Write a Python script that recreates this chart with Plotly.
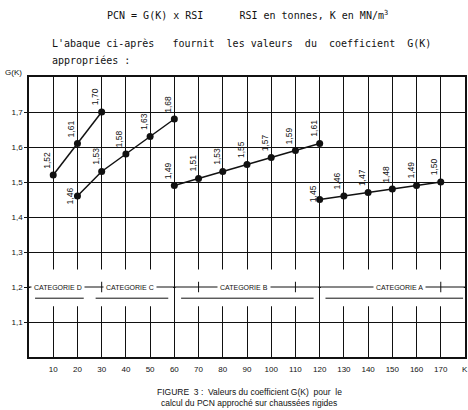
import plotly.graph_objects as go

# ---------------- data ----------------
k_D = [10, 20, 30]
g_D = [1.52, 1.61, 1.70]
k_C = [20, 30, 40, 50, 60]
g_C = [1.46, 1.53, 1.58, 1.63, 1.68]
k_B = [60, 70, 80, 90, 100, 110, 120]
g_B = [1.49, 1.51, 1.53, 1.55, 1.57, 1.59, 1.61]
k_A = [120, 130, 140, 150, 160, 170]
g_A = [1.45, 1.46, 1.47, 1.48, 1.49, 1.50]

x_tickvals = [10, 20, 30, 40, 50, 60, 70, 80, 90, 100, 110, 120, 130, 140, 150, 160, 170]
x_ticktext = ["10", "20", "30", "40", "50", "60", "70", "80", "90", "100", "110", "120",
              "130", "140", "150", "160", "170"]
x_unit_label = "K"
y_tickvals = [1.1, 1.2, 1.3, 1.4, 1.5, 1.6, 1.7]
y_ticktext = ["1,1", "1,2", "1,3", "1,4", "1,5", "1,6", "1,7"]

categories = ["CATEGORIE D", "CATEGORIE C", "CATEGORIE B", "CATEGORIE A"]
category_bounds = [(0, 60), (60, 120), (120, 180)]   # zones separated by full lines
band_y = 1.2

series = [(k_D, g_D), (k_C, g_C), (k_B, g_B), (k_A, g_A)]

# ---------------- layout constants (px / styling) ----------------
W, H = 468, 410
ML, MR, MT, MB = 29, 1, 77, 53
LINE = "#111111"
TXT_FONT = "Liberation Sans"
MONO = "DejaVu Sans Mono"

def py(px_y):
    return (H - MB - px_y) / (H - MT - MB)

def px_x(px_x_):
    return (px_x_ - ML) / (W - ML - MR)

fig = go.Figure()

for ks, gs in series:
    fig.add_trace(go.Scatter(
        x=ks, y=gs, mode="lines+markers",
        line=dict(color=LINE, width=1.5),
        marker=dict(color=LINE, size=7),
        showlegend=False, hoverinfo="skip"))

# value labels (rotated)
label_offsets = {(1, 0): (-7, 0), (3, 0): (-7, 6)}
annotations = []
for si, (ks, gs) in enumerate(series):
    for pi, (k, g) in enumerate(zip(ks, gs)):
        dx, dy = label_offsets.get((si, pi), (-6.5, 15))
        annotations.append(dict(
            x=k, y=g, xref="x", yref="y", text=f"{g:.2f}".replace(".", ","),
            showarrow=False, textangle=-90, xshift=dx, yshift=dy,
            font=dict(family=TXT_FONT, size=8.5, color=LINE)))

# ---- category band ----
shapes = []
gap_lo, gap_hi = 1.145, 1.25
for x0, x1 in category_bounds:
    shapes.append(dict(type="rect", xref="x", yref="y", x0=x0 + 0.5, x1=x1 - 0.5,
                       y0=gap_lo, y1=gap_hi, fillcolor="white", line=dict(width=0),
                       layer="between"))
shapes.append(dict(type="line", xref="x", yref="y", x0=0, x1=180, y0=band_y, y1=band_y,
                   line=dict(color=LINE, width=1), layer="between"))
for xc in [30, 70, 110, 170]:
    shapes.append(dict(type="line", xref="x", yref="y", x0=xc, x1=xc,
                       y0=band_y - 0.015, y1=band_y + 0.015,
                       line=dict(color=LINE, width=1), layer="between"))
underline_y = 1.168
underlines = [(2.5, 22.6), (27.5, 57.5), (62.8, 117.5), (122.4, 179.2)]
for a, b in underlines:
    shapes.append(dict(type="line", xref="x", yref="y", x0=a, x1=b,
                       y0=underline_y, y1=underline_y,
                       line=dict(color=LINE, width=1), layer="between"))

cat_centers = [11.9, 41.7, 88.8, 153.1]
for name, xc in zip(categories, cat_centers):
    annotations.append(dict(x=xc, y=band_y, xref="x", yref="y", text=name,
                            showarrow=False, bgcolor="white", borderpad=2,
                            font=dict(family=TXT_FONT, size=7, color=LINE)))

# G(K) axis title and K unit label
annotations.append(dict(x=0, y=1.8, xref="paper", yref="y", text="G(K)", showarrow=False,
                        xanchor="right", xshift=-5, yshift=5,
                        font=dict(family=TXT_FONT, size=8, color=LINE)))
annotations.append(dict(x=180, y=py(369), xref="x", yref="paper", text=x_unit_label,
                        showarrow=False, xanchor="center", yanchor="middle",
                        font=dict(family=TXT_FONT, size=8, color=LINE)))

# header text
annotations += [
    dict(x=px_x(105), y=py(15), xref="paper", yref="paper", xanchor="left", yanchor="middle",
         text="PCN = G(K) x RSI\u00a0\u00a0\u00a0\u00a0\u00a0 RSI en tonnes, K en MN/m<sup>3</sup>",
         showarrow=False, font=dict(family=MONO, size=10, color=LINE)),
    dict(x=px_x(50), y=py(43), xref="paper", yref="paper", xanchor="left", yanchor="middle",
         text="L'abaque ci-après\u00a0\u00a0 fournit\u00a0 les valeurs\u00a0 du\u00a0 coefficient\u00a0 G(K)",
         showarrow=False, font=dict(family=MONO, size=10, color=LINE)),
    dict(x=px_x(50), y=py(61), xref="paper", yref="paper", xanchor="left", yanchor="middle",
         text="appropriées :",
         showarrow=False, font=dict(family=MONO, size=10, color=LINE)),
    dict(x=px_x(251), y=py(392), xref="paper", yref="paper", xanchor="center", yanchor="middle",
         text="FIGURE\u00a0 3 :\u00a0 Valeurs du coefficient G(K)\u00a0 pour\u00a0 le",
         showarrow=False, font=dict(family=TXT_FONT, size=8.5, color=LINE)),
    dict(x=px_x(250), y=py(403), xref="paper", yref="paper", xanchor="center", yanchor="middle",
         text="calcul du PCN approché sur chaussées rigides",
         showarrow=False, font=dict(family=TXT_FONT, size=8.5, color=LINE)),
]

fig.update_layout(
    width=W, height=H, margin=dict(l=ML, r=MR, t=MT, b=MB),
    paper_bgcolor="white", plot_bgcolor="white",
    shapes=shapes, annotations=annotations,
    xaxis=dict(range=[0, 180], tickmode="array", tickvals=x_tickvals, ticktext=x_ticktext,
               showgrid=True, gridcolor=LINE, gridwidth=1, zeroline=False,
               showline=True, mirror=True, linecolor=LINE, linewidth=1.5,
               ticks="", ticklabelstandoff=4,
               tickfont=dict(family=TXT_FONT, size=8, color=LINE)),
    yaxis=dict(range=[1.0, 1.8], tickmode="array", tickvals=y_tickvals, ticktext=y_ticktext,
               showgrid=True, gridcolor=LINE, gridwidth=1, zeroline=False,
               showline=True, mirror=True, linecolor=LINE, linewidth=1.5,
               ticks="outside", ticklen=3, tickcolor=LINE,
               tickfont=dict(family=TXT_FONT, size=8, color=LINE)),
)

fig.write_html("out.html")
